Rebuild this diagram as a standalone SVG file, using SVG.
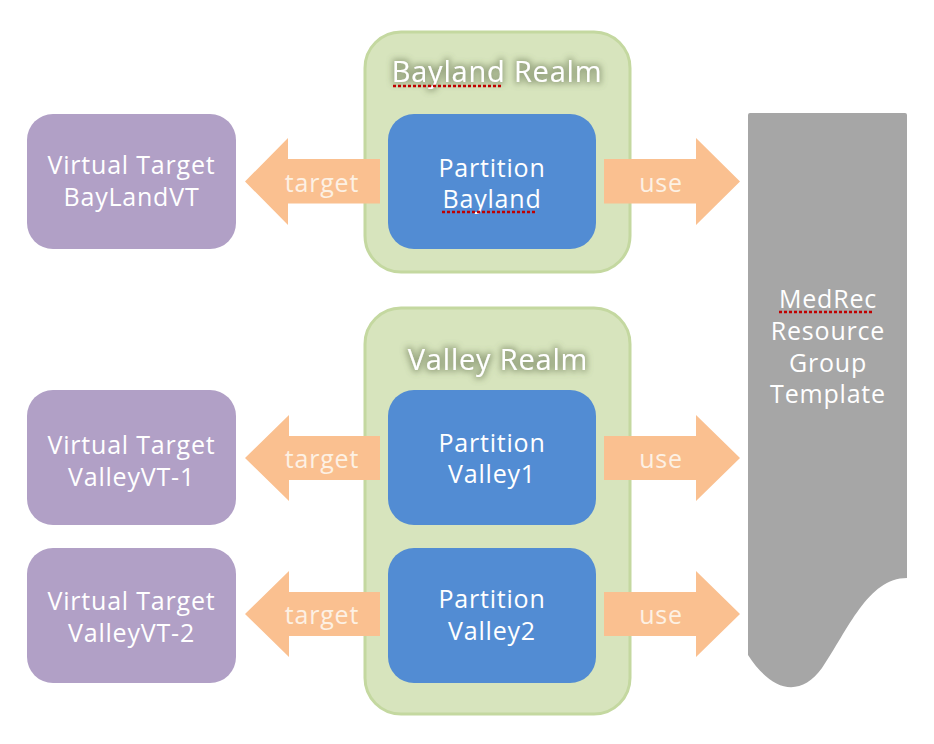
<svg xmlns="http://www.w3.org/2000/svg" width="934" height="744" viewBox="0 0 934 744">
<style>
text{font-family:"Open Sans","DejaVu Sans",sans-serif;text-anchor:middle;fill:#ffffff;letter-spacing:0.8px}
.vt{fill:#b1a0c6}
.part{fill:#528cd3}
.realm{fill:#d7e4bd;stroke:#c4d8a0;stroke-width:3}
.arrow{fill:#fac090}
.lbl{font-size:25px}
.alab{font-size:25px;fill:#fdf1e4}
.title{font-size:29px}
.spell{stroke:#c00000;stroke-width:2.5;stroke-dasharray:3 2;fill:none}
</style>
<defs>
<filter id="glow" x="-20%" y="-60%" width="140%" height="220%">
<feMorphology in="SourceAlpha" operator="dilate" radius="1.5" result="d"/>
<feGaussianBlur in="d" stdDeviation="3" result="b"/>
<feFlood flood-color="#5d6b48" flood-opacity="0.5"/>
<feComposite in2="b" operator="in" result="g"/>
<feMerge><feMergeNode in="g"/><feMergeNode in="SourceGraphic"/></feMerge>
</filter>
</defs>
<rect width="934" height="744" fill="#ffffff"/>

<g id="template">
<path d="M748,115 Q748,113 750,113 H905 Q907,113 907,115 V578 C868,578 848,630 822,668 C800,698 772,692 748,655 Z" fill="#a6a6a6"/>
<text class="lbl" x="828" y="308">MedRec</text>
<text class="lbl" x="828" y="340">Resource</text>
<text class="lbl" x="828" y="372">Group</text>
<text class="lbl" x="828" y="403">Template</text>
<line class="spell" x1="779" y1="312" x2="873" y2="312"/>
</g>

<g id="realm-bayland">
<rect class="realm" x="365" y="32" width="265" height="240" rx="36"/>
<text class="title" x="497" y="82" filter="url(#glow)">Bayland Realm</text>
<line class="spell" x1="393" y1="86" x2="502" y2="86"/>
</g>

<g id="realm-valley">
<rect class="realm" x="365" y="308" width="265" height="406" rx="36"/>
<text class="title" x="498" y="370" filter="url(#glow)">Valley Realm</text>
</g>

<g id="vt-bayland">
<rect class="vt" x="27" y="114" width="209" height="135" rx="26"/>
<text class="lbl" x="131.5" y="174">Virtual Target</text>
<text class="lbl" x="131.5" y="206">BayLandVT</text>
</g>
<g id="vt-valley1">
<rect class="vt" x="27" y="390" width="209" height="135" rx="26"/>
<text class="lbl" x="131.5" y="454">Virtual Target</text>
<text class="lbl" x="131.5" y="486">ValleyVT-1</text>
</g>
<g id="vt-valley2">
<rect class="vt" x="27" y="548" width="209" height="135" rx="26"/>
<text class="lbl" x="131.5" y="610">Virtual Target</text>
<text class="lbl" x="131.5" y="642">ValleyVT-2</text>
</g>

<g id="connectors">
<path class="arrow" d="M245,181.5 L288,138 V159 H380 V203.5 H288 V225 Z"/>
<text class="alab" x="322" y="192">target</text>
<path class="arrow" d="M740,181.5 L696,138 V159 H604 V203.5 H696 V225 Z"/>
<text class="alab" x="661" y="192">use</text>

<path class="arrow" d="M245,458 L289,415 V436 H380 V480 H289 V501 Z"/>
<text class="alab" x="322" y="468">target</text>
<path class="arrow" d="M740,458 L696,415 V436 H604 V480 H696 V501 Z"/>
<text class="alab" x="661" y="468">use</text>

<path class="arrow" d="M245,614 L289,571 V592 H380 V636 H289 V657 Z"/>
<text class="alab" x="322" y="624">target</text>
<path class="arrow" d="M740,614 L696,571 V592 H604 V636 H696 V657 Z"/>
<text class="alab" x="661" y="624">use</text>
</g>

<g id="partition-bayland">
<rect class="part" x="388" y="114" width="208" height="135" rx="26"/>
<text class="lbl" x="492" y="177">Partition</text>
<text class="lbl" x="492" y="208">Bayland</text>
<line class="spell" x1="442" y1="212" x2="537" y2="212"/>
</g>
<g id="partition-valley1">
<rect class="part" x="388" y="390" width="208" height="135" rx="26"/>
<text class="lbl" x="492" y="452">Partition</text>
<text class="lbl" x="492" y="483">Valley1</text>
</g>
<g id="partition-valley2">
<rect class="part" x="388" y="548" width="208" height="135" rx="26"/>
<text class="lbl" x="492" y="608">Partition</text>
<text class="lbl" x="492" y="640">Valley2</text>
</g>
</svg>
